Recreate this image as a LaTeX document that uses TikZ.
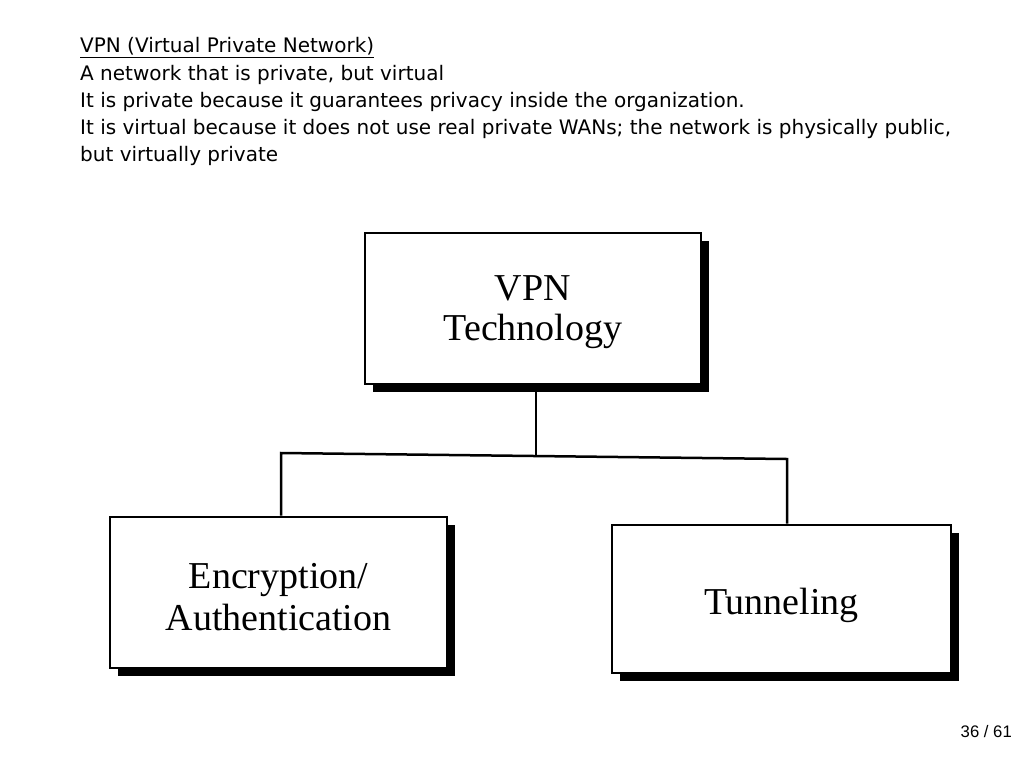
\documentclass[tikz,border=0pt]{standalone}
\usepackage{fontspec}
\setmainfont{Liberation Serif}
\newfontfamily\headfont{DejaVu Sans}
\newfontfamily\numfont{Liberation Sans}
\usetikzlibrary{shadows}
\begin{document}
\begin{tikzpicture}[x=1pt,y=-1pt,
  headline/.style={anchor=base west, inner sep=0pt, font=\headfont\fontsize{20}{24}\selectfont},
  techbox/.style={draw=black, line width=2.8pt, fill=white, minimum width=336pt, minimum height=151pt,
    align=center, font=\fontsize{38}{40}\selectfont,
    drop shadow={shadow xshift=8pt, shadow yshift=-8pt, fill=black, opacity=1}},
  link/.style={draw=black, line width=2.5pt, line join=miter}]
\useasboundingbox[fill=white] (0,0) rectangle (1024,768);

\node[headline] (t1) at (80,52.7) {\underline{VPN (Virtual Private Network)}};
\node[headline] (t2) at (80,80) {A network that is private, but virtual};
\node[headline] (t3) at (80,107.3) {It is private because it guarantees privacy inside the organization.};
\node[headline] (t4) at (80,134.6) {It is virtual because it does not use real private WANs; the network is physically public,};
\node[headline] (t5) at (80,161.9) {but virtually private};

\node[techbox, text height=71pt, text depth=8pt] (top) at (533,308.5) {VPN\\Technology};
\node[techbox, minimum width=337pt, text height=75pt, text depth=0pt,
  font=\fontsize{38}{42}\selectfont] (enc) at (278.5,592.5) {Encryption/\\Authentication};
\node[techbox, minimum width=339pt, minimum height=148pt, text height=38pt, text depth=8pt] (tun) at (781.5,599) {Tunneling};

\coordinate (j) at (536,455);
\coordinate (jl) at (281,453);
\coordinate (jr) at (787,459);
\draw[link] (j |- top.south) -- (j);
\draw[link] (jl |- enc.north) -- (jl) -- (jr) -- (jr |- tun.north);

\node[anchor=base east, inner sep=0pt, font=\numfont\fontsize{16.7}{20}\selectfont] (pg) at (1012,737) {36 / 61};
\end{tikzpicture}
\end{document}
